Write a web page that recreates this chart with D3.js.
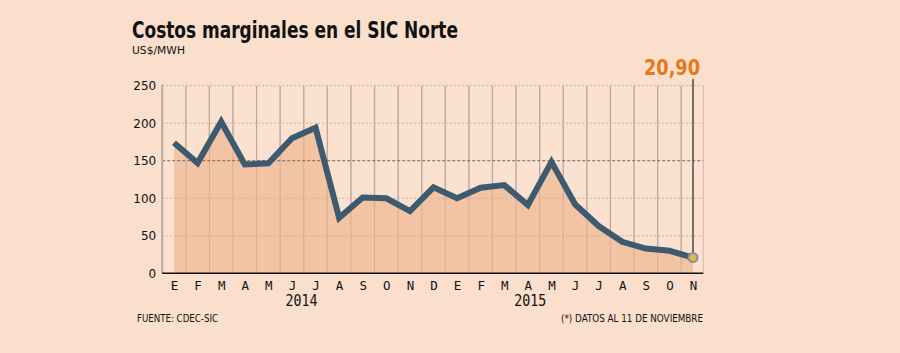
<!DOCTYPE html>
<html><head><meta charset="utf-8">
<script src="https://cdn.jsdelivr.net/npm/d3@7/dist/d3.min.js"></script>
<style>html,body{margin:0;padding:0;background:#f9dfcc;}svg{display:block;}</style>
</head><body>
<svg id="c" width="900" height="353"></svg>
<script>
const months = ["E","F","M","A","M","J","J","A","S","O","N","D","E","F","M","A","M","J","J","A","S","O","N"];
const values = [174,147,202,145,146.5,180,194,74,101,100,83,114.5,100,114,117.5,91,148.5,92,63,42,33,30,20.9];
const yTicks = [0,50,100,150,200,250];
const years = [{label:"2014", pos:5.4},{label:"2015", pos:15.1}];
const lastLabel = "20,90";

const svg = d3.select("#c");
const W=900,H=353;
svg.append("rect").attr("width",W).attr("height",H).attr("fill","#f9dfcc");

const x = d3.scaleLinear().domain([0, months.length-1]).range([174, 693]);
const y = d3.scaleLinear().domain([0,250]).range([273.3, 85.7]);
const left = x(-0.5), right = x(months.length-0.5)-1.5;

// plot background
svg.append("rect").attr("x",left).attr("y",y(250)).attr("width",right-left).attr("height",y(0)-y(250)).attr("fill","#fae1d0");

// vertical gridlines at month boundaries
d3.range(1, months.length).forEach(i=>{
  svg.append("line").attr("x1",x(i-0.5)).attr("x2",x(i-0.5)).attr("y1",y(250)).attr("y2",y(0))
   .attr("stroke","#c4aea0").attr("stroke-width",1.2);
});

// area
const area = d3.area().x((d,i)=>x(i)).y0(y(0)).y1(d=>y(d));
svg.append("path").datum(values).attr("d",area).attr("fill","#f3c4a4");

d3.range(1, months.length).forEach(i=>{
  svg.append("line").attr("x1",x(i-0.5)).attr("x2",x(i-0.5)).attr("y1",y(250)).attr("y2",y(0))
   .attr("stroke","#b8a497").attr("stroke-opacity",0.55).attr("stroke-width",1.2);
});

// horizontal gridlines
yTicks.filter(t=>t>0).forEach(t=>{
  svg.append("line").attr("x1",left).attr("x2",right).attr("y1",y(t)).attr("y2",y(t))
   .attr("stroke", t===150 ? "#6e6460" : "#d0b0a0")
   .attr("stroke-width",1).attr("stroke-dasharray", t===150 ? "3,2" : "2,2");
});

// left axis line and right border
svg.append("line").attr("x1",left).attr("x2",left).attr("y1",y(250)-1).attr("y2",y(0)).attr("stroke","#b7a79d").attr("stroke-width",2);
svg.append("line").attr("x1",right).attr("x2",right).attr("y1",y(250)).attr("y2",y(0)).attr("stroke","#d8bba9").attr("stroke-width",1);

// y axis
const yAxis = d3.axisLeft(y).tickValues(yTicks).tickSize(0).tickPadding(6);
const ya = svg.append("g").attr("transform",`translate(${left},0)`).call(yAxis);
ya.select(".domain").remove();
ya.selectAll("text").attr("font-family","DejaVu Sans").attr("font-size",12).attr("fill","#111");

// baseline
svg.append("line").attr("x1",left).attr("x2",right).attr("y1",y(0)).attr("y2",y(0)).attr("stroke","#111").attr("stroke-width",1.5);

// x axis labels
const xAxis = d3.axisBottom(x).tickValues(d3.range(months.length)).tickFormat(i=>months[i]).tickSize(0).tickPadding(8);
const xa = svg.append("g").attr("transform",`translate(0,${y(0)})`).call(xAxis);
xa.select(".domain").remove();
xa.selectAll("text").attr("font-family","DejaVu Sans Mono").attr("font-size",12.5).attr("fill","#111");

years.forEach(yr=>{
  svg.append("text").attr("x",x(yr.pos)).attr("y",306).attr("text-anchor","middle")
   .attr("font-family","DejaVu Sans Mono").attr("font-size",15).attr("fill","#111")
   .attr("textLength",32).attr("lengthAdjust","spacingAndGlyphs").text(yr.label);
});

// marker line
const li = values.length-1;
svg.append("line").attr("x1",x(li)).attr("x2",x(li)).attr("y1",79).attr("y2",y(values[li]))
  .attr("stroke","#4a4a4a").attr("stroke-width",1.5);

// line
const line = d3.line().x((d,i)=>x(i)).y(d=>y(d));
svg.append("path").datum(values).attr("d",line).attr("fill","none").attr("stroke","#3e5a6e")
  .attr("stroke-width",6).attr("stroke-linejoin","miter");

// end point
svg.append("circle").attr("cx",x(li)).attr("cy",y(values[li])).attr("r",4.5)
  .attr("fill","#e9b24c").attr("stroke","#7f93a3").attr("stroke-width",2);

// last label
svg.append("text").attr("x",700).attr("y",75).attr("text-anchor","end")
  .attr("font-family","DejaVu Sans").attr("font-weight","bold").attr("font-size",21)
  .attr("fill","#e3781f").attr("textLength",56).attr("lengthAdjust","spacingAndGlyphs").text(lastLabel);

// title
svg.append("text").attr("x",132).attr("y",38).attr("font-family","DejaVu Sans").attr("font-weight","bold")
  .attr("font-size",22.5).attr("fill","#111").attr("textLength",326).attr("lengthAdjust","spacingAndGlyphs")
  .text("Costos marginales en el SIC Norte");
svg.append("text").attr("x",132).attr("y",54).attr("font-family","DejaVu Sans")
  .attr("font-size",10.5).attr("fill","#111").attr("textLength",53).attr("lengthAdjust","spacingAndGlyphs")
  .text("US$/MWH");

// footer
svg.append("text").attr("x",137).attr("y",322).attr("font-family","DejaVu Sans")
  .attr("font-size",10).attr("fill","#111").attr("textLength",81).attr("lengthAdjust","spacingAndGlyphs")
  .text("FUENTE: CDEC-SIC");
svg.append("text").attr("x",703).attr("y",322).attr("text-anchor","end").attr("font-family","DejaVu Sans")
  .attr("font-size",10).attr("fill","#111").attr("textLength",142).attr("lengthAdjust","spacingAndGlyphs")
  .text("(*) DATOS AL 11 DE NOVIEMBRE");
</script>
</body></html>
